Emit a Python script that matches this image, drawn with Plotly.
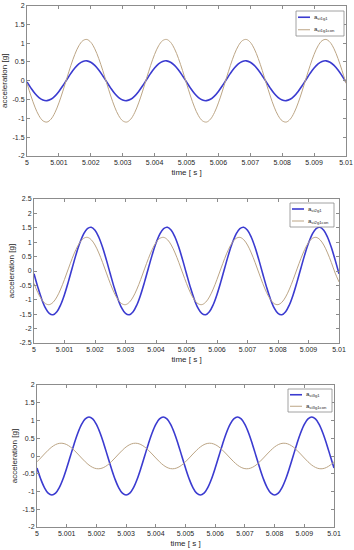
import numpy as np
import plotly.graph_objects as go

# time grid (s)
time = np.linspace(5.0, 5.01, 81)

# samples (20 per period, 4 periods)
st1g1 = [-0.033, -0.195, -0.338, -0.447, -0.513, -0.529, -0.493, -0.408, -0.284, -0.132,
         0.033, 0.195, 0.338, 0.447, 0.513, 0.529, 0.493, 0.408, 0.284, 0.132,
         -0.033, -0.195, -0.338, -0.447, -0.513, -0.529, -0.493, -0.408, -0.284, -0.132,
         0.033, 0.195, 0.338, 0.447, 0.513, 0.529, 0.493, 0.408, 0.284, 0.132,
         -0.033, -0.195, -0.338, -0.447, -0.513, -0.529, -0.493, -0.408, -0.284, -0.132,
         0.033, 0.195, 0.338, 0.447, 0.513, 0.529, 0.493, 0.408, 0.284, 0.132,
         -0.033, -0.195, -0.338, -0.447, -0.513, -0.529, -0.493, -0.408, -0.284, -0.132,
         0.033, 0.195, 0.338, 0.447, 0.513, 0.529, 0.493, 0.408, 0.284, 0.132,
         -0.033]
st1g1con = [-0.069, -0.405, -0.701, -0.929, -1.065, -1.098, -1.023, -0.848, -0.589, -0.274,
            0.069, 0.405, 0.701, 0.929, 1.065, 1.098, 1.023, 0.848, 0.589, 0.274,
            -0.069, -0.405, -0.701, -0.929, -1.065, -1.098, -1.023, -0.848, -0.589, -0.274,
            0.069, 0.405, 0.701, 0.929, 1.065, 1.098, 1.023, 0.848, 0.589, 0.274,
            -0.069, -0.405, -0.701, -0.929, -1.065, -1.098, -1.023, -0.848, -0.589, -0.274,
            0.069, 0.405, 0.701, 0.929, 1.065, 1.098, 1.023, 0.848, 0.589, 0.274,
            -0.069, -0.405, -0.701, -0.929, -1.065, -1.098, -1.023, -0.848, -0.589, -0.274,
            0.069, 0.405, 0.701, 0.929, 1.065, 1.098, 1.023, 0.848, 0.589, 0.274,
            -0.069]
st2g1 = [-0.096, -0.560, -0.969, -1.283, -1.472, -1.517, -1.413, -1.171, -0.814, -0.378,
         0.096, 0.560, 0.969, 1.283, 1.472, 1.517, 1.413, 1.171, 0.814, 0.378,
         -0.096, -0.560, -0.969, -1.283, -1.472, -1.517, -1.413, -1.171, -0.814, -0.378,
         0.096, 0.560, 0.969, 1.283, 1.472, 1.517, 1.413, 1.171, 0.814, 0.378,
         -0.096, -0.560, -0.969, -1.283, -1.472, -1.517, -1.413, -1.171, -0.814, -0.378,
         0.096, 0.560, 0.969, 1.283, 1.472, 1.517, 1.413, 1.171, 0.814, 0.378,
         -0.096, -0.560, -0.969, -1.283, -1.472, -1.517, -1.413, -1.171, -0.814, -0.378,
         0.096, 0.560, 0.969, 1.283, 1.472, 1.517, 1.413, 1.171, 0.814, 0.378,
         -0.096]
st2g1con = [-0.431, -0.746, -0.988, -1.133, -1.168, -1.088, -0.902, -0.627, -0.291, 0.073,
            0.431, 0.746, 0.988, 1.133, 1.168, 1.088, 0.902, 0.627, 0.291, -0.073,
            -0.431, -0.746, -0.988, -1.133, -1.168, -1.088, -0.902, -0.627, -0.291, 0.073,
            0.431, 0.746, 0.988, 1.133, 1.168, 1.088, 0.902, 0.627, 0.291, -0.073,
            -0.431, -0.746, -0.988, -1.133, -1.168, -1.088, -0.902, -0.627, -0.291, 0.073,
            0.431, 0.746, 0.988, 1.133, 1.168, 1.088, 0.902, 0.627, 0.291, -0.073,
            -0.431, -0.746, -0.988, -1.133, -1.168, -1.088, -0.902, -0.627, -0.291, 0.073,
            0.431, 0.746, 0.988, 1.133, 1.168, 1.088, 0.902, 0.627, 0.291, -0.073,
            -0.380]
st3g1 = [-0.340, -0.647, -0.890, -1.046, -1.100, -1.046, -0.890, -0.647, -0.340, 0.000,
         0.340, 0.647, 0.890, 1.046, 1.100, 1.046, 0.890, 0.647, 0.340, 0.000,
         -0.340, -0.647, -0.890, -1.046, -1.100, -1.046, -0.890, -0.647, -0.340, 0.000,
         0.340, 0.647, 0.890, 1.046, 1.100, 1.046, 0.890, 0.647, 0.340, 0.000,
         -0.340, -0.647, -0.890, -1.046, -1.100, -1.046, -0.890, -0.647, -0.340, 0.000,
         0.340, 0.647, 0.890, 1.046, 1.100, 1.046, 0.890, 0.647, 0.340, 0.000,
         -0.340, -0.647, -0.890, -1.046, -1.100, -1.046, -0.890, -0.647, -0.340, 0.000,
         0.340, 0.647, 0.890, 1.046, 1.100, 1.046, 0.890, 0.647, 0.340, 0.000,
         -0.340]
st3g1con = [-0.163, -0.056, 0.056, 0.163, 0.255, 0.321, 0.356, 0.356, 0.321, 0.255,
            0.163, 0.056, -0.056, -0.163, -0.255, -0.321, -0.356, -0.356, -0.321, -0.255,
            -0.163, -0.056, 0.056, 0.163, 0.255, 0.321, 0.356, 0.356, 0.321, 0.255,
            0.163, 0.056, -0.056, -0.163, -0.255, -0.321, -0.356, -0.356, -0.321, -0.255,
            -0.163, -0.056, 0.056, 0.163, 0.255, 0.321, 0.356, 0.356, 0.321, 0.255,
            0.163, 0.056, -0.056, -0.163, -0.255, -0.321, -0.356, -0.356, -0.321, -0.255,
            -0.163, -0.056, 0.056, 0.163, 0.255, 0.321, 0.356, 0.356, 0.321, 0.255,
            0.163, 0.056, -0.056, -0.163, -0.255, -0.321, -0.356, -0.356, -0.321, -0.255,
            -0.163]

x_ticks = [5, 5.001, 5.002, 5.003, 5.004, 5.005, 5.006, 5.007, 5.008, 5.009, 5.01]
x_labels = ["5", "5.001", "5.002", "5.003", "5.004", "5.005", "5.006", "5.007", "5.008", "5.009", "5.01"]

W, H = 354, 550
# legend boxes in pixels: (left, top, right, bottom)
panels = [
    dict(names=["a<sub>st1g1</sub>", "a<sub>st1g1con</sub>"], data=[st1g1, st1g1con],
         yr=[-2, 2], yticks=[-2, -1.5, -1, -0.5, 0, 0.5, 1, 1.5, 2],
         xd=[27/W, 346/W], yd=[1-156/H, 1-5.5/H], box=(296, 11, 344, 36)),
    dict(names=["a<sub>st2g1</sub>", "a<sub>st2g1con</sub>"], data=[st2g1, st2g1con],
         yr=[-2.5, 2.5], yticks=[-2.5, -2, -1.5, -1, -0.5, 0, 0.5, 1, 1.5, 2, 2.5],
         xd=[34/W, 339/W], yd=[1-343/H, 1-199/H], box=(290, 203, 334, 227)),
    dict(names=["a<sub>st3g1</sub>", "a<sub>st3g1con</sub>"], data=[st3g1, st3g1con],
         yr=[-2, 2], yticks=[-2, -1.5, -1, -0.5, 0, 0.5, 1, 1.5, 2],
         xd=[37/W, 334/W], yd=[1-527/H, 1-385/H], box=(288, 389, 332, 412)),
]

colors = ["#3b3bd0", "#bca585"]
widths = [1.6, 1.0]

def px(x):
    return x / W

def py(y):
    return 1 - y / H

fig = go.Figure()
shapes = []
annotations = []
layout = dict(
    width=W, height=H,
    margin=dict(l=0, r=0, t=0, b=0, autoexpand=False),
    paper_bgcolor="white", plot_bgcolor="white",
    font=dict(family="Liberation Sans, Arial, sans-serif", size=7, color="#262626"),
    showlegend=False,
)

for i, p in enumerate(panels):
    n = "" if i == 0 else str(i + 1)
    for j in range(2):
        fig.add_trace(go.Scatter(
            x=time, y=p["data"][j], mode="lines", name=p["names"][j],
            line=dict(color=colors[j], width=widths[j], shape="spline", smoothing=1.0),
            xaxis="x" + n, yaxis="y" + n))
    axcommon = dict(showline=True, linecolor="#8c8c8c", linewidth=1, mirror="ticks",
                    ticks="inside", ticklen=3, tickcolor="#8c8c8c", showgrid=False,
                    zeroline=False, tickfont=dict(size=7, color="#262626"))
    layout["xaxis" + n] = dict(domain=p["xd"], range=[5, 5.01], tickvals=x_ticks, ticktext=x_labels,
                               anchor="y" + n,
                               title=dict(text="time [ s ]", font=dict(size=8), standoff=3),
                               **axcommon)
    layout["yaxis" + n] = dict(domain=p["yd"], range=p["yr"], tickvals=p["yticks"],
                               ticktext=["%g" % v for v in p["yticks"]], anchor="x" + n,
                               title=dict(text="acceleration [g]", font=dict(size=8), standoff=3),
                               **axcommon)
    # legend (box, sample lines and labels)
    l, t, r, b = p["box"]
    shapes.append(dict(type="rect", xref="paper", yref="paper", x0=px(l), x1=px(r), y0=py(b), y1=py(t),
                       fillcolor="white", line=dict(color="#8c8c8c", width=0.8), layer="above"))
    hrow = (b - t) / 2.0
    for j in range(2):
        yc = t + hrow * (j + 0.5)
        shapes.append(dict(type="line", xref="paper", yref="paper", x0=px(l + 2), x1=px(l + 14),
                           y0=py(yc), y1=py(yc), line=dict(color=colors[j], width=widths[j]),
                           layer="above"))
        annotations.append(dict(xref="paper", yref="paper", x=px(l + 16), y=py(yc), xanchor="left",
                                yanchor="middle", text=p["names"][j], showarrow=False,
                                font=dict(size=6, color="#262626")))

layout["shapes"] = shapes
layout["annotations"] = annotations
fig.update_layout(**layout)
fig.write_html("out.html", config={"displayModeBar": False},
               post_script="document.body.style.margin='0';document.body.style.overflow='hidden';")
